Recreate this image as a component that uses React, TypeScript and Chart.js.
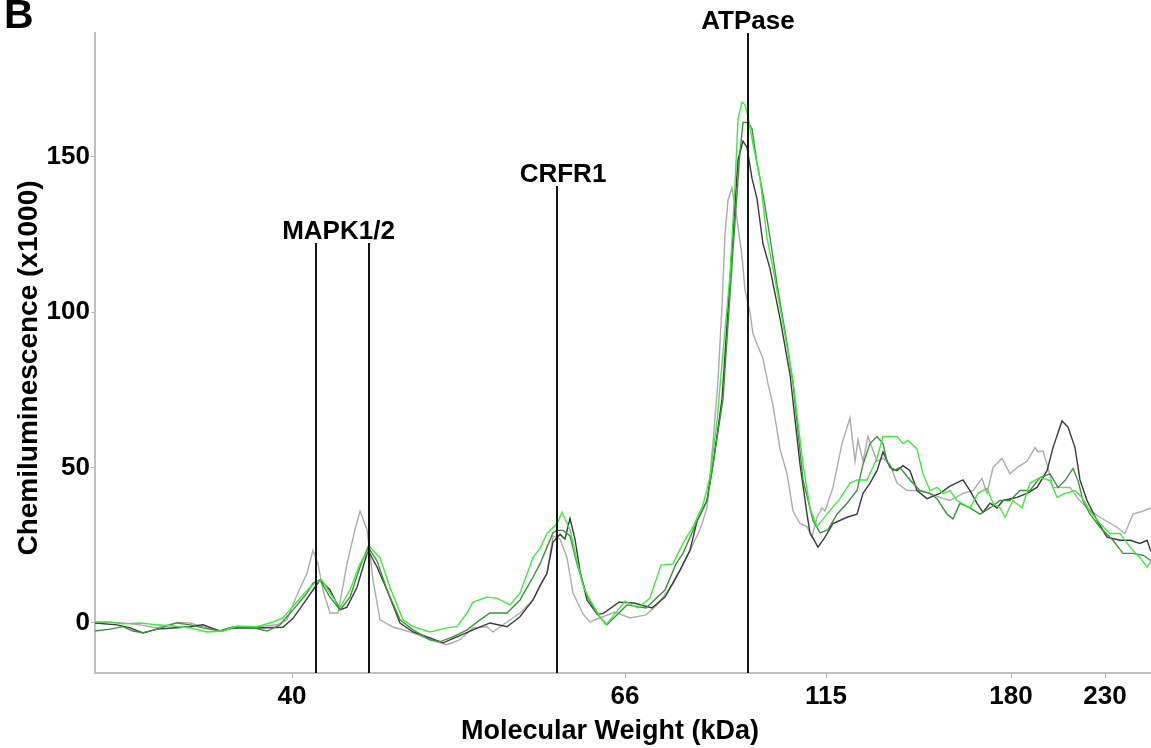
import React, { useEffect, useRef } from 'react';
import { Chart, registerables } from 'chart.js';

Chart.register(...registerables);

// Migration position along the lane (arbitrary units, 0 = left edge of the lane)
const mwTickPositions = [197, 530, 731, 916, 1010];
const mwTickLabels = ['40', '66', '115', '180', '230'];
const yTickValues = [0, 50, 100, 150];

const lightGray: [number, number][] = [
  [0,0.3],[15,0.2],[28,0],[45,-0.6],[62,-1.6],[82,0.2],[95,0],[112,-1.6],[128,-2.6],[145,-1.2],[162,-1.2],[182,-0.6],[192,1],[202,9],[212,16],[218,23.4],[223,19],[228,10.6],[235,3.2],[243,3.2],[252,19],[260,30],[265,36],[272,30],[278,13.8],[285,1],[298,-1.3],[318,-3.2],[335,-5.4],[352,-7],[365,-5.4],[378,-1.6],[392,-1.2],[398,-2.9],[412,0.3],[425,3.2],[438,7.4],[452,16],[458,28],[465,27],[472,21],[478,9.6],[488,2.9],[495,0.3],[505,1.6],[520,3.5],[535,1.6],[551,2.6],[562,5.8],[578,12.5],[593,22],[605,30],[612,37],[618,58],[623,78],[627,102],[630,125],[633,136],[637,140],[642,130],[647,118],[650,107],[655,100],[658,93],[668,85],[673,77],[678,70],[685,56],[692,48],[698,36],[705,32],[712,31],[717,27.6],[722,34],[727,37],[730,36],[738,43.6],[747,57.7],[755,66],[760,52],[763,59],[768,52],[773,60],[782,52],[788,53],[795,51],[802,45],[812,42.6],[822,42.6],[835,41.7],[848,40],[855,39.4],[868,41.7],[878,42.6],[887,46.5],[892,41.7],[898,50],[907,53],[915,48],[922,50],[932,52],[940,56.4],[943,55],[948,55.4],[953,50],[958,43.6],[965,43.6],[975,43.6],[983,40],[992,37],[1005,34],[1022,30.8],[1030,28.8],[1038,35],[1048,36],[1056,37]
];

const darkGray: [number, number][] = [
  [0,0],[22,-0.6],[35,-1.6],[48,-3.2],[62,-2],[78,-1.6],[95,-1.2],[108,-0.6],[125,-2.6],[138,-1.6],[162,-1.6],[188,-1.4],[198,1.5],[208,6],[218,10.6],[225,13.8],[235,10.6],[245,4.2],[252,5.1],[262,11.5],[273,23.4],[282,18],[292,10.6],[305,0],[318,-2.9],[335,-4.8],[348,-6.4],[362,-4.5],[378,-2.2],[395,0],[412,-1.2],[425,2],[438,7.4],[445,12],[452,16],[458,26],[465,28.5],[470,27],[475,33.6],[480,27],[485,16.7],[492,7.4],[502,2.9],[508,3],[524,6.7],[539,6.4],[557,4.8],[570,8.3],[585,17],[595,23.4],[602,32.7],[612,39.4],[618,51],[627,72],[637,120],[643,149],[648,155],[652,153],[657,143],[662,136.5],[668,122],[675,114],[685,98],[695,80],[705,51],[712,35],[715,29],[723,24.4],[730,27.6],[738,32],[752,34],[762,35],[768,41.7],[775,45],[782,49],[788,55],[795,50],[802,49],[808,50.6],[815,49],[822,42.6],[832,40],[845,41.7],[855,44],[868,46],[875,42.6],[882,38.5],[888,35.6],[895,38.5],[902,37],[908,39.4],[922,40.4],[932,41.7],[942,43.6],[952,49],[958,56.4],[967,65],[973,63],[980,56.4],[985,46],[992,39.4],[1002,33],[1012,27.6],[1025,26.6],[1035,26.6],[1045,25.6],[1052,26.6],[1056,23]
];

const brightGreen: [number, number][] = [
  [0,0.3],[15,0.3],[28,-0.3],[45,0],[62,-0.6],[78,-1],[95,-1.6],[112,-2.9],[128,-2.6],[142,-1],[162,-1.2],[178,0.3],[188,1.6],[202,6.8],[215,11.5],[221,13],[227,13.8],[235,9.6],[245,5.1],[255,10.6],[265,19],[275,24.4],[285,21],[295,11.5],[308,1],[318,-1.2],[335,-2.9],[352,-1.6],[362,-1.2],[372,3.2],[378,6.7],[392,8.3],[402,8],[415,5.8],[425,9.6],[438,21],[445,24],[452,28.8],[462,32],[467,35.6],[475,30],[482,20],[488,12],[495,7.4],[505,2],[511,-0.6],[520,3],[530,7],[543,4.8],[555,8],[566,18.6],[578,19],[588,25.6],[598,31],[608,38],[615,47],[622,65],[628,87],[635,112],[640,141],[643,162],[647,167.6],[650,166.7],[653,163],[658,154],[665,143],[672,124],[678,114],[687,98],[698,78],[708,51],[715,37],[722,31],[732,35],[745,40],[755,45],[762,46],[772,46],[782,53],[788,60],[802,60],[808,57.7],[813,58.7],[822,56],[828,48],[835,42.6],[842,43.6],[848,41.7],[855,42.6],[862,39.4],[875,37],[883,41.7],[892,43.3],[898,38.5],[905,37],[910,34],[918,39.4],[927,37],[935,45],[945,46.8],[955,45.8],[962,40.4],[970,41.7],[980,42.6],[987,40.4],[995,36],[1005,32],[1015,28.8],[1025,28.8],[1035,24.4],[1045,21],[1052,18],[1056,20]
];

const darkGreen: [number, number][] = [
  [0,-2.6],[15,-2],[28,-1.2],[38,-2.6],[48,-3.2],[62,-2],[82,0],[95,-0.6],[108,-1.6],[125,-2.6],[138,-1.2],[158,-1.6],[172,-2.6],[185,-0.6],[198,4.2],[212,9.6],[218,12.8],[225,13.8],[235,8.3],[245,4.2],[255,8.3],[265,18],[273,24.4],[282,20],[292,10.6],[305,1],[318,-2.2],[335,-5.4],[345,-6],[358,-4.5],[372,-2.2],[385,1],[395,3.2],[412,3.2],[425,7.4],[438,14.7],[445,19],[452,24.4],[458,29],[462,29.8],[468,29.8],[475,28],[482,19],[492,8.7],[502,2.9],[512,-0.6],[532,5.8],[551,4.8],[570,10.6],[581,19],[588,22.4],[602,32.7],[612,39.4],[618,51],[628,72],[638,120],[645,151.6],[648,161],[653,161],[657,159],[662,148],[668,138],[675,124],[682,109],[692,90],[698,77],[708,46],[718,33],[725,29],[733,30],[742,35],[752,38.5],[762,42.6],[768,51],[775,57.7],[782,60],[788,57.7],[792,52],[798,49],[805,50],[815,46],[825,42.6],[835,41.7],[842,40],[852,35],[858,33.5],[865,38.5],[875,37],[885,35],[895,37],[905,39.4],[915,39.4],[925,42.6],[935,42.6],[945,46.8],[955,48],[963,43.6],[970,45.8],[978,49.7],[983,45.8],[988,39.4],[995,35],[1005,30.8],[1018,26.6],[1028,22.4],[1038,22.4],[1048,21.8],[1056,20]
];

// Band markers
const markerLines = [221, 274, 462, 653];
const markerLineTops = [122.2, 122.2, 140.6, 189.8];
const markerNames = ['MAPK1/2', 'CRFR1', 'ATPase'];
const markerLabelX = [243.5, 468, 653];
const markerLabelY = [122.2, 140.6, 189.8];

const xMin = 0;
const xMax = 1056;
const yMin = -16.1;
const yMax = 189.8;

const FONT = '"Liberation Sans", Arial, Helvetica, sans-serif';

const textPlugin = {
  id: 'figureTexts',
  afterDraw(chart: any) {
    const { ctx } = chart;
    const xs = chart.scales.x;
    const ys = chart.scales.y;
    ctx.save();
    ctx.fillStyle = '#000';
    ctx.font = `bold 26px ${FONT}`;
    ctx.textAlign = 'center';
    ctx.textBaseline = 'alphabetic';
    markerNames.forEach((name, i) => {
      ctx.fillText(name, xs.getPixelForValue(markerLabelX[i]), ys.getPixelForValue(markerLabelY[i]) - 4);
    });
    // x axis title
    ctx.font = `bold 27px ${FONT}`;
    ctx.fillText('Molecular Weight (kDa)', 610, 739);
    // y axis title
    ctx.save();
    ctx.font = `bold 28px ${FONT}`;
    ctx.translate(37, 368);
    ctx.rotate(-Math.PI / 2);
    ctx.fillText('Chemiluminescence (x1000)', 0, 0);
    ctx.restore();
    // panel letter
    ctx.textAlign = 'left';
    ctx.font = `bold 41px ${FONT}`;
    ctx.fillText('B', 4, 28);
    ctx.restore();
  },
};

export default function App() {
  const ref = useRef<HTMLCanvasElement | null>(null);

  useEffect(() => {
    if (!ref.current) return;
    const toPts = (arr: [number, number][]) => arr.map(([x, y]) => ({ x, y }));
    const markerSets = markerLines.map((m, i) => ({
      data: [{ x: m, y: yMin }, { x: m, y: markerLineTops[i] }],
      borderColor: '#151515',
      borderWidth: 2,
      pointRadius: 0,
      fill: false,
    }));
    const series = [
      { label: 'bright green', data: toPts(brightGreen), borderColor: '#3fea3f' },
      { label: 'dark green', data: toPts(darkGreen), borderColor: '#3c933c' },
      { label: 'dark gray', data: toPts(darkGray), borderColor: '#3a3a3a' },
      { label: 'light gray', data: toPts(lightGray), borderColor: '#ababab' },
    ].map((s) => ({ ...s, borderWidth: 1.4, pointRadius: 0, fill: false, tension: 0 }));

    const chart = new Chart(ref.current, {
      type: 'line',
      data: { datasets: [...markerSets, ...series] as any },
      options: {
        animation: false,
        responsive: false,
        devicePixelRatio: 1,
        parsing: false as any,
        layout: { padding: { top: 33, left: 0, right: 0, bottom: 0 } },
        plugins: { legend: { display: false }, tooltip: { enabled: false }, title: { display: false } },
        scales: {
          x: {
            type: 'linear',
            min: xMin,
            max: xMax,
            afterBuildTicks: (axis: any) => {
              axis.ticks = mwTickPositions.map((v) => ({ value: v }));
            },
            afterFit: (axis: any) => {
              axis.height = 75;
            },
            ticks: {
              autoSkip: false,
              maxRotation: 0,
              color: '#000',
              padding: 3,
              font: { family: FONT, size: 26, weight: 'bold' },
              callback: (_v: any, i: number) => mwTickLabels[i],
            },
            grid: { display: true, drawOnChartArea: false, drawTicks: true, tickLength: 5, color: '#b0b0b0' },
            border: { display: true, color: '#c0c0c0', width: 2 },
          },
          y: {
            type: 'linear',
            min: yMin,
            max: yMax,
            afterBuildTicks: (axis: any) => {
              axis.ticks = yTickValues.map((v) => ({ value: v }));
            },
            afterFit: (axis: any) => {
              axis.width = 95;
            },
            ticks: {
              color: '#000',
              padding: 1,
              font: { family: FONT, size: 26, weight: 'bold' },
            },
            grid: { display: true, drawOnChartArea: false, drawTicks: true, tickLength: 4, color: '#b0b0b0' },
            border: { display: true, color: '#c0c0c0', width: 2 },
          },
        },
      } as any,
      plugins: [textPlugin],
    });
    return () => chart.destroy();
  }, []);

  return (
    <div style={{ position: 'absolute', left: 0, top: 0, width: 1151, height: 748, background: '#fff' }}>
      <canvas ref={ref} width={1151} height={748} style={{ display: 'block' }} />
    </div>
  );
}
